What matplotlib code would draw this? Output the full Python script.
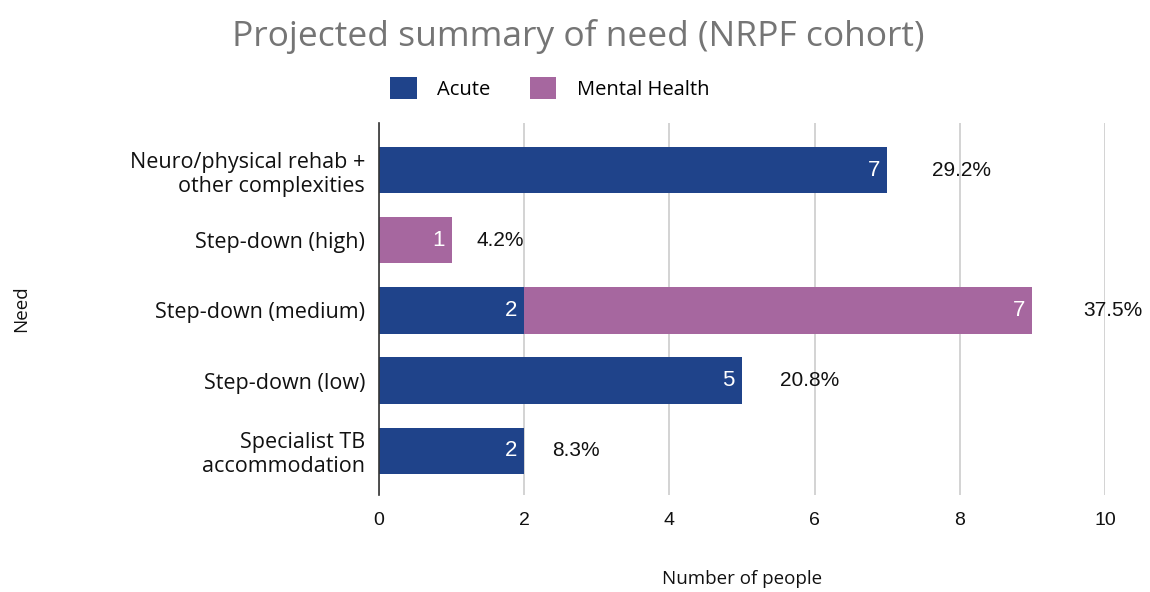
import matplotlib.pyplot as plt
import numpy as np

# data
needs = ["Neuro/physical rehab +\nother complexities", "Step-down (high)",
         "Step-down (medium)", "Step-down (low)", "Specialist TB\naccommodation"]
acute = [7, 0, 2, 5, 2]
mental_health = [0, 1, 7, 0, 0]
pct_labels = ["29.2%", "4.2%", "37.5%", "20.8%", "8.3%"]

c_acute = "#1f438a"
c_mh = "#a6679f"
txt_font = ["Open Sans", "DejaVu Sans"]
num_font = ["Liberation Sans", "DejaVu Sans"]

fig = plt.figure(figsize=(11.5, 5.92), dpi=100)
ax = fig.add_axes([0.3296, 0.164, 0.6313, 0.628])

y = np.arange(len(needs))
acute = np.array(acute)
mental_health = np.array(mental_health)
b1 = ax.barh(y, acute, height=0.66, color=c_acute, label="Acute", zorder=3)
b2 = ax.barh(y, mental_health, left=acute, height=0.66, color=c_mh,
             label="Mental Health", zorder=3)

# value labels inside the segments
for i in range(len(needs)):
    if acute[i] > 0:
        ax.text(acute[i] - 0.1, y[i], str(acute[i]), ha="right", va="center",
                color="white", fontsize=16, family=num_font, zorder=4)
    if mental_health[i] > 0:
        end = acute[i] + mental_health[i]
        ax.text(end - 0.1, y[i], str(mental_health[i]), ha="right", va="center",
                color="white", fontsize=16, family=num_font, zorder=4)
    total = acute[i] + mental_health[i]
    ax.text(total + 0.3 + 0.045 * total, y[i], pct_labels[i], ha="left",
            va="center", color="#111111", fontsize=15, family=num_font)

ax.set_xlim(0, 10)
ax.set_ylim(4.63, -0.67)
ax.set_xticks([0, 2, 4, 6, 8, 10])
ax.set_yticks(y)
ax.set_yticklabels(needs, fontsize=15.5, family=txt_font, color="#111111")
for lab in ax.get_xticklabels():
    lab.set_family(num_font)
ax.tick_params(axis="x", labelsize=14, length=0, pad=12, colors="#111111")
ax.tick_params(axis="y", length=0, pad=10)
ax.grid(axis="x", color="#cccccc", linewidth=1.2, zorder=0)
for s in ["top", "right", "bottom"]:
    ax.spines[s].set_visible(False)
ax.spines["left"].set_color("#333333")
ax.spines["left"].set_linewidth(1.2)
ax.spines["left"].set_zorder(5)

ax.set_xlabel("Number of people", fontsize=13.5, family=txt_font, color="#111111", labelpad=30)
fig.text(0.018, 0.478, "Need", rotation=90, ha="center", va="center",
         fontsize=13.5, family=txt_font, color="#111111")

fig.suptitle("Projected summary of need (NRPF cohort)", x=0.503, y=0.968,
             fontsize=25.5, family=txt_font, color="#757575")
fig.legend(handles=[b1, b2], loc="center", bbox_to_anchor=(0.478, 0.851), ncol=2,
           frameon=False, prop={"family": txt_font, "size": 14.5},
           handlelength=1.3, handleheight=1.3, columnspacing=2.0, handletextpad=1.0)

plt.savefig("out.png", dpi=100)
